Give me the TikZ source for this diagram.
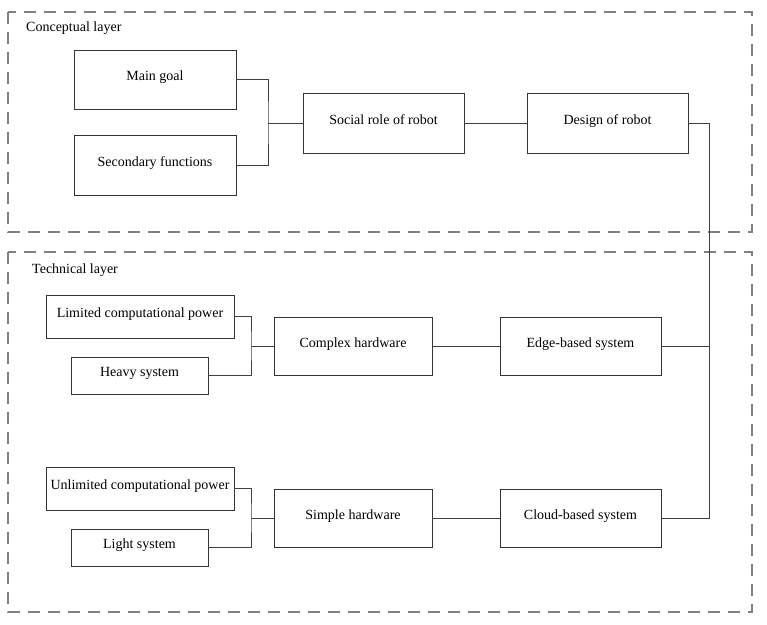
\documentclass[tikz,border=0pt]{standalone}
\usepackage{fontspec}
\setmainfont{Liberation Serif}
\begin{document}
\begin{tikzpicture}[x=1pt,y=-1pt,
  box/.style={draw=black!80, line width=0.9pt, rectangle, inner sep=0pt,
    font=\fontsize{14}{16}\selectfont, text height=10pt, text depth=8pt},
  conn/.style={draw=black!75, line width=0.9pt},
  layer/.style={draw=black!50, line width=1.2pt, dash pattern=on 12pt off 8pt},
  title/.style={anchor=base west, inner sep=0pt, font=\fontsize{14}{16}\selectfont}]
\useasboundingbox (0,0) rectangle (767,624);
\draw[layer] (8,12) rectangle (752,232);
\draw[layer] (8,252) rectangle (752,612);
\node[title] (cl) at (26,31) {Conceptual layer};
\node[title] (tl) at (32,273) {Technical layer};

\node[box, minimum width=162, minimum height=59] (mg) at (155,79.5) {Main goal};
\node[box, minimum width=162, minimum height=60] (sf) at (155,165) {Secondary functions};
\node[box, minimum width=161, minimum height=60] (social) at (383.5,123) {Social role of robot};
\node[box, minimum width=161, minimum height=60] (design) at (607.5,123) {Design of robot};

\node[box, minimum width=188, minimum height=43] (lim) at (140,316.5) {Limited computational power};
\node[box, minimum width=137, minimum height=37] (heavy) at (139.5,375.5) {Heavy system};
\node[box, minimum width=158, minimum height=58] (complex) at (353,346) {Complex hardware};
\node[box, minimum width=161, minimum height=58] (edge) at (580.5,346) {Edge-based system};

\node[box, minimum width=188, minimum height=43] (unlim) at (140,488.5) {Unlimited computational power};
\node[box, minimum width=137, minimum height=37] (light) at (139.5,547.5) {Light system};
\node[box, minimum width=158, minimum height=58] (simple) at (353,518) {Simple hardware};
\node[box, minimum width=161, minimum height=58] (cloud) at (580.5,518) {Cloud-based system};

\coordinate (j1) at (268,123);
\coordinate (j2) at (251,346);
\coordinate (j3) at (251,518);
\coordinate (vr) at (709,0);

\draw[conn] (mg.east) -| (j1) |- (sf.east);
\draw[conn] (j1) -- (social.west);
\draw[conn] (social.east) -- (design.west);
\draw[conn] (design.east) -| (cloud.east -| vr) -- (cloud.east);
\draw[conn] (edge.east) -- (edge.east -| vr);

\draw[conn] (lim.east) -| (j2) |- (heavy.east);
\draw[conn] (j2) -- (complex.west);
\draw[conn] (complex.east) -- (edge.west);

\draw[conn] (unlim.east) -| (j3) |- (light.east);
\draw[conn] (j3) -- (simple.west);
\draw[conn] (simple.east) -- (cloud.west);
\end{tikzpicture}
\end{document}
